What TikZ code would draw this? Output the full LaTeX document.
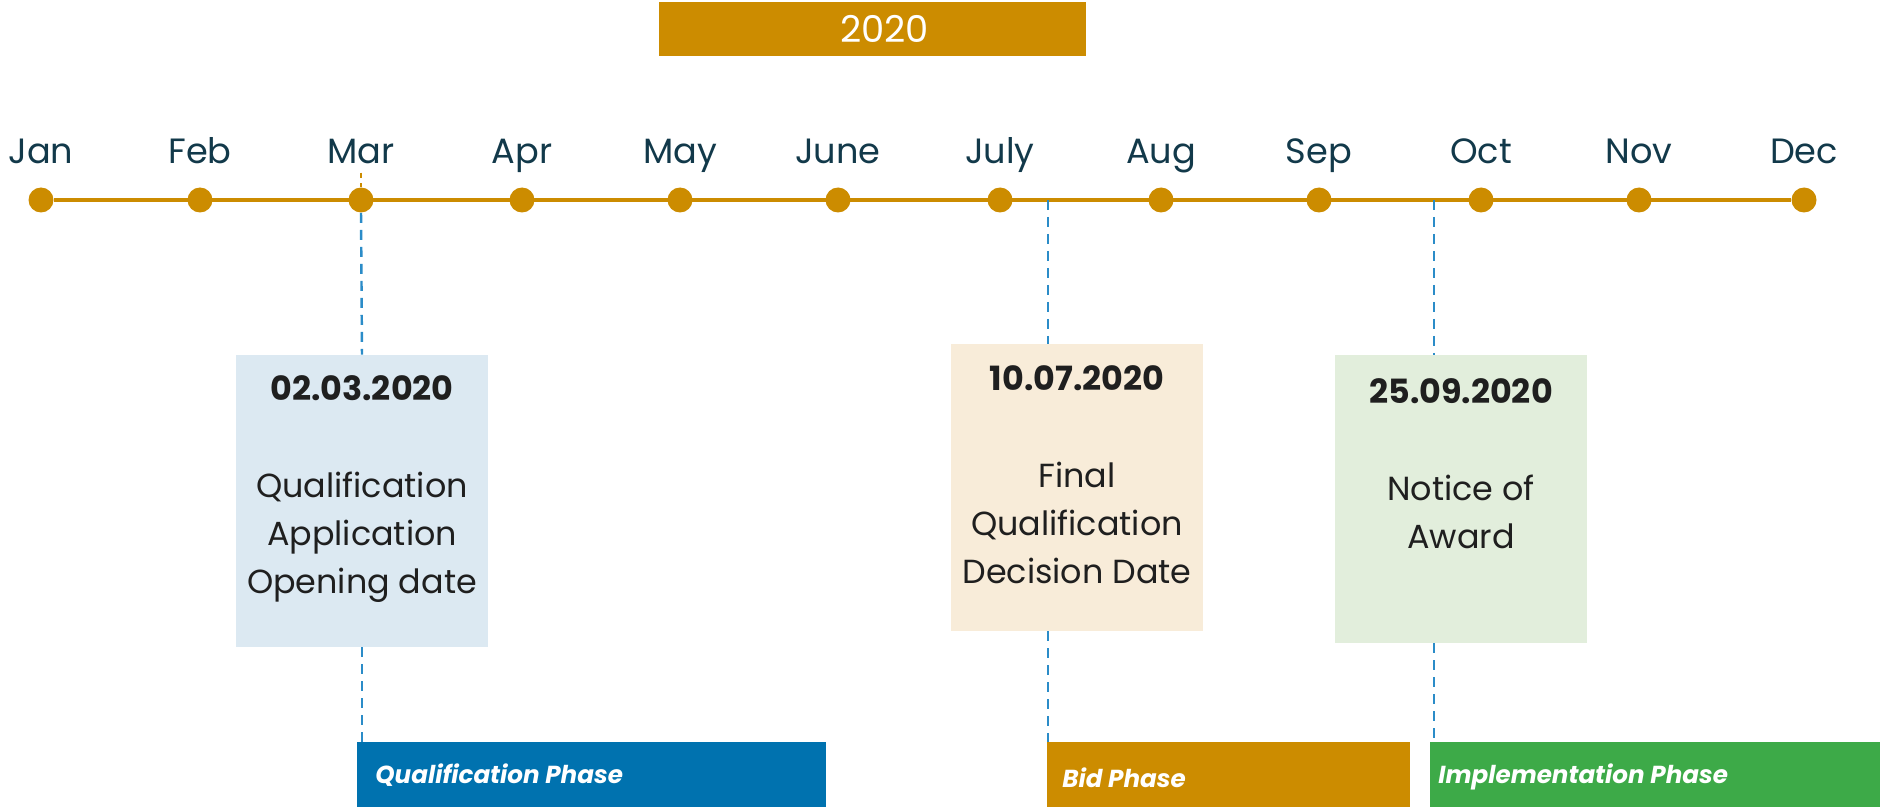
\documentclass[tikz,border=0pt]{standalone}
\usepackage{fontspec}
\setmainfont{Poppins}
\usetikzlibrary{positioning}

\definecolor{gold}{HTML}{CC8C00}
\definecolor{navy}{HTML}{12394A}
\definecolor{markblue}{HTML}{2B8CC8}
\definecolor{qualblue}{HTML}{0072AF}
\definecolor{implgreen}{HTML}{3DAA48}
\definecolor{openfill}{HTML}{DCE9F2}
\definecolor{decifill}{HTML}{F8ECD9}
\definecolor{awardfill}{HTML}{E2EEDC}

\begin{document}
\begin{tikzpicture}[x=0.02cm, y=-0.02cm,
  month/.style={font=\fontsize{20pt}{24pt}\selectfont, text=navy, anchor=base, inner sep=0pt},
  monthdot/.style={circle, fill=gold, minimum size=0.5cm, inner sep=0pt},
  eventbox/.style={rectangle, minimum width=5.04cm, inner sep=0pt},
  eventtext/.style={align=center, anchor=north, text=black!88, inner sep=0pt,
    font=\fontsize{19pt}{27.2pt}\selectfont},
  phasebar/.style={rectangle, anchor=north west, minimum height=1.3cm, inner sep=0pt},
  phaselabel/.style={anchor=base west, inner sep=0pt, text=white,
    font=\fontsize{14pt}{16pt}\selectfont\bfseries\itshape},
  marker/.style={markblue, line width=1.4pt, dash pattern=on 0.2cm off 0.14cm}
]
\useasboundingbox (0,0) rectangle (1880,807);

% Year banner
\node[fill=gold, minimum width=8.54cm, minimum height=1.08cm, inner sep=0pt,
  label={[text=white, xshift=0.24cm, font=\fontsize{21pt}{25pt}\selectfont]center:2020}] (year) at (872.5,29) {};

% Months
\foreach \m/\lab/\x in {jan/Jan/41, feb/Feb/200, mar/Mar/361, apr/Apr/522, may/May/680,
  jun/June/838, jul/July/1000, aug/Aug/1161, sep/Sep/1319, oct/Oct/1481, nov/Nov/1639, dec/Dec/1804}{
  \node[monthdot] (\m dot) at (\x,200) {};
  \node[month] (\m) at (\x,164) {\lab};
}
\draw[gold, line width=2.2pt] (jandot) -- (decdot);
\draw[gold, line width=1.2pt, dashed, shorten <=0.16cm] (mar.south) -- (mardot.north);

% Event boxes
\node[eventbox, fill=openfill, minimum height=5.84cm] (openbox) at (362,501) {};
\node[eventtext, below=0.42cm of openbox.north] (opentext)
  {{\fontsize{19pt}{22pt}\selectfont\bfseries 02.03.2020}\\[28pt]Qualification\\Application\\Opening date};

\node[eventbox, fill=decifill, minimum height=5.74cm] (decibox) at (1077,487.5) {};
\node[eventtext, below=0.44cm of decibox.north] (decitext)
  {{\fontsize{19pt}{22pt}\selectfont\bfseries 10.07.2020}\\[28pt]Final\\Qualification\\Decision Date};

\node[eventbox, fill=awardfill, minimum height=5.76cm] (awardbox) at (1461,499) {};
\node[eventtext, below=0.48cm of awardbox.north] (awardtext)
  {{\fontsize{19pt}{22pt}\selectfont\bfseries 25.09.2020}\\[28pt]Notice of\\Award};

% Phases
\node[phasebar, fill=qualblue, minimum width=9.38cm] (qualbar) at (357,742) {};
\node[phaselabel] (qualtext) at (375,783) {Qualification Phase};
\node[phasebar, fill=gold, minimum width=7.26cm] (bidbar) at (1047,742) {};
\node[phaselabel] (bidtext) at (1062,787) {Bid Phase};
\node[phasebar, fill=implgreen, minimum width=9cm] (implbar) at (1430,742) {};
\node[phaselabel] (impltext) at (1438,783) {Implementation Phase};

% Markers
\coordinate (julymark) at (1048,200);
\coordinate (octmark) at (1434,200);
\draw[marker] (mardot.south) -- (openbox.north);
\draw[marker] (openbox.south) -- (openbox.south |- qualbar.north);
\draw[marker] (julymark) -- (julymark |- decibox.north);
\draw[marker] (julymark |- decibox.south) -- (julymark |- bidbar.north);
\draw[marker] (octmark) -- (octmark |- awardbox.north);
\draw[marker] (octmark |- awardbox.south) -- (octmark |- implbar.north);

\end{tikzpicture}
\end{document}
